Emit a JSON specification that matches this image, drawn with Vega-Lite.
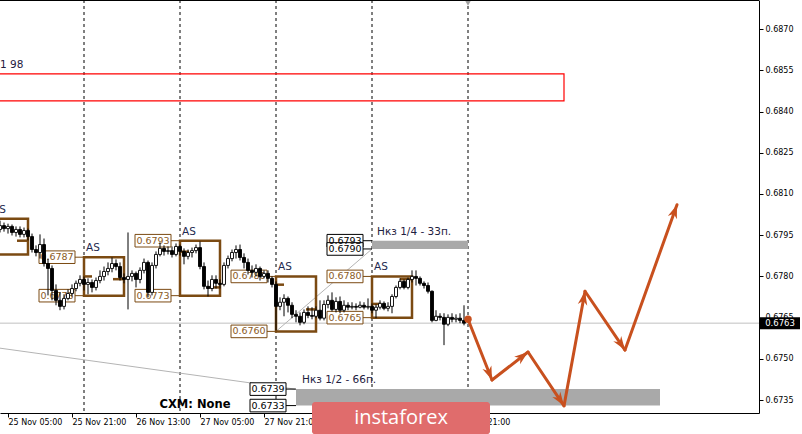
{
  "$schema": "https://vega.github.io/schema/vega-lite/v6.json",
  "width": 759,
  "height": 413,
  "autosize": {"type": "none"},
  "padding": {"left": 0, "top": 0, "right": 43, "bottom": 21},
  "background": "white",
  "config": {"view": {"stroke": null}, "font": "DejaVu Sans"},
  "datasets": {
    "candles": [
      {"t":"2019-11-25T03:00Z","o":0.67971,"h":0.68003,"l":0.6796,"c":0.67985},
      {"t":"2019-11-25T04:00Z","o":0.67985,"h":0.67996,"l":0.67963,"c":0.67974},
      {"t":"2019-11-25T05:00Z","o":0.67974,"h":0.67992,"l":0.67956,"c":0.67982},
      {"t":"2019-11-25T06:00Z","o":0.67982,"h":0.67989,"l":0.67949,"c":0.6796},
      {"t":"2019-11-25T07:00Z","o":0.6796,"h":0.67982,"l":0.67945,"c":0.67971},
      {"t":"2019-11-25T08:00Z","o":0.67971,"h":0.67982,"l":0.67942,"c":0.67953},
      {"t":"2019-11-25T09:00Z","o":0.67953,"h":0.67978,"l":0.67942,"c":0.67967},
      {"t":"2019-11-25T10:00Z","o":0.67967,"h":0.67974,"l":0.67931,"c":0.67945},
      {"t":"2019-11-25T11:00Z","o":0.67945,"h":0.67956,"l":0.67887,"c":0.67898},
      {"t":"2019-11-25T12:00Z","o":0.67898,"h":0.67913,"l":0.67873,"c":0.67887},
      {"t":"2019-11-25T13:00Z","o":0.67887,"h":0.67953,"l":0.67865,"c":0.67916},
      {"t":"2019-11-25T14:00Z","o":0.67916,"h":0.67938,"l":0.67836,"c":0.67847},
      {"t":"2019-11-25T15:00Z","o":0.67847,"h":0.67865,"l":0.67731,"c":0.67829},
      {"t":"2019-11-25T16:00Z","o":0.67829,"h":0.6784,"l":0.67713,"c":0.67749},
      {"t":"2019-11-25T17:00Z","o":0.67749,"h":0.67771,"l":0.67695,"c":0.67713},
      {"t":"2019-11-25T18:00Z","o":0.67713,"h":0.67742,"l":0.67677,"c":0.67691},
      {"t":"2019-11-25T19:00Z","o":0.67691,"h":0.67735,"l":0.6768,"c":0.6772},
      {"t":"2019-11-25T20:00Z","o":0.6772,"h":0.67753,"l":0.67713,"c":0.67738},
      {"t":"2019-11-25T21:00Z","o":0.67738,"h":0.67771,"l":0.67727,"c":0.67756},
      {"t":"2019-11-25T22:00Z","o":0.67756,"h":0.67785,"l":0.67746,"c":0.67775},
      {"t":"2019-11-25T23:00Z","o":0.67775,"h":0.67804,"l":0.67764,"c":0.67789},
      {"t":"2019-11-26T00:00Z","o":0.67789,"h":0.678,"l":0.67749,"c":0.67771},
      {"t":"2019-11-26T01:00Z","o":0.67771,"h":0.67793,"l":0.67735,"c":0.67778},
      {"t":"2019-11-26T02:00Z","o":0.67778,"h":0.67789,"l":0.67742,"c":0.6776},
      {"t":"2019-11-26T03:00Z","o":0.6776,"h":0.67796,"l":0.67749,"c":0.67785},
      {"t":"2019-11-26T04:00Z","o":0.67785,"h":0.67822,"l":0.67775,"c":0.678},
      {"t":"2019-11-26T05:00Z","o":0.678,"h":0.67836,"l":0.67785,"c":0.67818},
      {"t":"2019-11-26T06:00Z","o":0.67818,"h":0.67851,"l":0.67804,"c":0.67829},
      {"t":"2019-11-26T07:00Z","o":0.67829,"h":0.67869,"l":0.67815,"c":0.67847},
      {"t":"2019-11-26T08:00Z","o":0.67847,"h":0.67862,"l":0.67822,"c":0.67836},
      {"t":"2019-11-26T09:00Z","o":0.67836,"h":0.67851,"l":0.67785,"c":0.67796},
      {"t":"2019-11-26T10:00Z","o":0.67796,"h":0.67811,"l":0.67775,"c":0.67789},
      {"t":"2019-11-26T11:00Z","o":0.67789,"h":0.6796,"l":0.6768,"c":0.678},
      {"t":"2019-11-26T12:00Z","o":0.678,"h":0.67822,"l":0.67782,"c":0.67811},
      {"t":"2019-11-26T13:00Z","o":0.67811,"h":0.67818,"l":0.6776,"c":0.67789},
      {"t":"2019-11-26T14:00Z","o":0.67789,"h":0.67833,"l":0.67775,"c":0.67822},
      {"t":"2019-11-26T15:00Z","o":0.67822,"h":0.67865,"l":0.67811,"c":0.67851},
      {"t":"2019-11-26T16:00Z","o":0.67851,"h":0.67858,"l":0.67724,"c":0.67742},
      {"t":"2019-11-26T17:00Z","o":0.67742,"h":0.67851,"l":0.67731,"c":0.6784},
      {"t":"2019-11-26T18:00Z","o":0.6784,"h":0.67891,"l":0.67829,"c":0.6788},
      {"t":"2019-11-26T19:00Z","o":0.6788,"h":0.67924,"l":0.67873,"c":0.67902},
      {"t":"2019-11-26T20:00Z","o":0.67902,"h":0.67913,"l":0.67876,"c":0.67891},
      {"t":"2019-11-26T21:00Z","o":0.67891,"h":0.67909,"l":0.6788,"c":0.67894},
      {"t":"2019-11-26T22:00Z","o":0.67894,"h":0.67909,"l":0.67869,"c":0.6788},
      {"t":"2019-11-26T23:00Z","o":0.6788,"h":0.6792,"l":0.67873,"c":0.67909},
      {"t":"2019-11-27T00:00Z","o":0.67909,"h":0.67916,"l":0.67876,"c":0.67891},
      {"t":"2019-11-27T01:00Z","o":0.67891,"h":0.67902,"l":0.67844,"c":0.67873},
      {"t":"2019-11-27T02:00Z","o":0.67873,"h":0.67898,"l":0.67862,"c":0.67887},
      {"t":"2019-11-27T03:00Z","o":0.67887,"h":0.67905,"l":0.67869,"c":0.67894},
      {"t":"2019-11-27T04:00Z","o":0.67894,"h":0.67916,"l":0.67884,"c":0.67905},
      {"t":"2019-11-27T05:00Z","o":0.67905,"h":0.67927,"l":0.67826,"c":0.67836},
      {"t":"2019-11-27T06:00Z","o":0.67836,"h":0.67851,"l":0.67753,"c":0.67764},
      {"t":"2019-11-27T07:00Z","o":0.67764,"h":0.67785,"l":0.67727,"c":0.67756},
      {"t":"2019-11-27T08:00Z","o":0.67756,"h":0.67804,"l":0.67746,"c":0.67789},
      {"t":"2019-11-27T09:00Z","o":0.67789,"h":0.67804,"l":0.67756,"c":0.67775},
      {"t":"2019-11-27T10:00Z","o":0.67775,"h":0.67789,"l":0.67756,"c":0.67771},
      {"t":"2019-11-27T11:00Z","o":0.67771,"h":0.67851,"l":0.67764,"c":0.6784},
      {"t":"2019-11-27T12:00Z","o":0.6784,"h":0.67876,"l":0.67829,"c":0.67865},
      {"t":"2019-11-27T13:00Z","o":0.67865,"h":0.67898,"l":0.67855,"c":0.67887},
      {"t":"2019-11-27T14:00Z","o":0.67887,"h":0.67913,"l":0.67865,"c":0.67898},
      {"t":"2019-11-27T15:00Z","o":0.67898,"h":0.67916,"l":0.67858,"c":0.67869},
      {"t":"2019-11-27T16:00Z","o":0.67869,"h":0.67884,"l":0.67829,"c":0.67851},
      {"t":"2019-11-27T17:00Z","o":0.67851,"h":0.67865,"l":0.67807,"c":0.67822},
      {"t":"2019-11-27T18:00Z","o":0.67822,"h":0.6784,"l":0.67796,"c":0.67815},
      {"t":"2019-11-27T19:00Z","o":0.67815,"h":0.67844,"l":0.678,"c":0.67829},
      {"t":"2019-11-27T20:00Z","o":0.67829,"h":0.67836,"l":0.67785,"c":0.678},
      {"t":"2019-11-27T21:00Z","o":0.678,"h":0.67822,"l":0.67793,"c":0.67811},
      {"t":"2019-11-27T22:00Z","o":0.67811,"h":0.67822,"l":0.67778,"c":0.67793},
      {"t":"2019-11-27T23:00Z","o":0.67793,"h":0.678,"l":0.6776,"c":0.67771},
      {"t":"2019-11-28T00:00Z","o":0.67771,"h":0.67782,"l":0.67604,"c":0.67691},
      {"t":"2019-11-28T01:00Z","o":0.67691,"h":0.67724,"l":0.67677,"c":0.67706},
      {"t":"2019-11-28T02:00Z","o":0.67706,"h":0.67735,"l":0.67655,"c":0.6772},
      {"t":"2019-11-28T03:00Z","o":0.6772,"h":0.67727,"l":0.67669,"c":0.67695},
      {"t":"2019-11-28T04:00Z","o":0.67695,"h":0.67706,"l":0.67648,"c":0.67662},
      {"t":"2019-11-28T05:00Z","o":0.67662,"h":0.67677,"l":0.67633,"c":0.67655},
      {"t":"2019-11-28T06:00Z","o":0.67655,"h":0.67669,"l":0.67622,"c":0.67633},
      {"t":"2019-11-28T07:00Z","o":0.67633,"h":0.6768,"l":0.67626,"c":0.67669},
      {"t":"2019-11-28T08:00Z","o":0.67669,"h":0.67691,"l":0.67648,"c":0.67658},
      {"t":"2019-11-28T09:00Z","o":0.67658,"h":0.67688,"l":0.67644,"c":0.67655},
      {"t":"2019-11-28T10:00Z","o":0.67655,"h":0.67691,"l":0.67648,"c":0.67677},
      {"t":"2019-11-28T11:00Z","o":0.67677,"h":0.67713,"l":0.6764,"c":0.67648},
      {"t":"2019-11-28T12:00Z","o":0.67648,"h":0.67713,"l":0.6764,"c":0.67698},
      {"t":"2019-11-28T13:00Z","o":0.67698,"h":0.67731,"l":0.67684,"c":0.67713},
      {"t":"2019-11-28T14:00Z","o":0.67713,"h":0.67742,"l":0.67673,"c":0.6768},
      {"t":"2019-11-28T15:00Z","o":0.6768,"h":0.67724,"l":0.67669,"c":0.67709},
      {"t":"2019-11-28T16:00Z","o":0.67709,"h":0.67727,"l":0.67666,"c":0.67677},
      {"t":"2019-11-28T17:00Z","o":0.67677,"h":0.67713,"l":0.67669,"c":0.67695},
      {"t":"2019-11-28T18:00Z","o":0.67695,"h":0.67706,"l":0.67677,"c":0.67688},
      {"t":"2019-11-28T19:00Z","o":0.67688,"h":0.67706,"l":0.6768,"c":0.67691},
      {"t":"2019-11-28T20:00Z","o":0.67691,"h":0.67702,"l":0.67677,"c":0.67688},
      {"t":"2019-11-28T21:00Z","o":0.67688,"h":0.67709,"l":0.67684,"c":0.67695},
      {"t":"2019-11-28T22:00Z","o":0.67695,"h":0.67706,"l":0.6768,"c":0.67688},
      {"t":"2019-11-28T23:00Z","o":0.67688,"h":0.6772,"l":0.6768,"c":0.67691},
      {"t":"2019-11-29T00:00Z","o":0.67691,"h":0.67702,"l":0.67666,"c":0.67677},
      {"t":"2019-11-29T01:00Z","o":0.67677,"h":0.67698,"l":0.67648,"c":0.67688},
      {"t":"2019-11-29T02:00Z","o":0.67688,"h":0.67713,"l":0.6768,"c":0.67702},
      {"t":"2019-11-29T03:00Z","o":0.67702,"h":0.67709,"l":0.67677,"c":0.67684},
      {"t":"2019-11-29T04:00Z","o":0.67684,"h":0.67706,"l":0.67673,"c":0.67691},
      {"t":"2019-11-29T05:00Z","o":0.67691,"h":0.67735,"l":0.67666,"c":0.67727},
      {"t":"2019-11-29T06:00Z","o":0.67727,"h":0.67767,"l":0.6772,"c":0.6776},
      {"t":"2019-11-29T07:00Z","o":0.6776,"h":0.67793,"l":0.67753,"c":0.67782},
      {"t":"2019-11-29T08:00Z","o":0.67782,"h":0.67789,"l":0.67753,"c":0.6776},
      {"t":"2019-11-29T09:00Z","o":0.6776,"h":0.67796,"l":0.67753,"c":0.67789},
      {"t":"2019-11-29T10:00Z","o":0.67789,"h":0.67822,"l":0.67778,"c":0.678},
      {"t":"2019-11-29T11:00Z","o":0.678,"h":0.67822,"l":0.67767,"c":0.67793},
      {"t":"2019-11-29T12:00Z","o":0.67793,"h":0.678,"l":0.67767,"c":0.67775},
      {"t":"2019-11-29T13:00Z","o":0.67775,"h":0.67782,"l":0.67756,"c":0.67767},
      {"t":"2019-11-29T14:00Z","o":0.67767,"h":0.67778,"l":0.67738,"c":0.67746},
      {"t":"2019-11-29T15:00Z","o":0.67746,"h":0.67749,"l":0.67633,"c":0.6764},
      {"t":"2019-11-29T16:00Z","o":0.6764,"h":0.67677,"l":0.67637,"c":0.67655},
      {"t":"2019-11-29T17:00Z","o":0.67655,"h":0.67666,"l":0.6764,"c":0.67651},
      {"t":"2019-11-29T18:00Z","o":0.67651,"h":0.67666,"l":0.6755,"c":0.67626},
      {"t":"2019-11-29T19:00Z","o":0.67626,"h":0.67662,"l":0.67619,"c":0.67651},
      {"t":"2019-11-29T20:00Z","o":0.67651,"h":0.67666,"l":0.67633,"c":0.67644},
      {"t":"2019-11-29T21:00Z","o":0.67644,"h":0.67662,"l":0.67633,"c":0.67648},
      {"t":"2019-11-29T22:00Z","o":0.67648,"h":0.67666,"l":0.6763,"c":0.6764},
      {"t":"2019-11-29T23:00Z","o":0.6764,"h":0.67695,"l":0.67622,"c":0.6763}
    ],
    "sep": [
      {"t":"2019-11-26T00:00Z"},{"t":"2019-11-27T00:00Z"},{"t":"2019-11-28T00:00Z"},{"t":"2019-11-29T00:00Z"},{"t":"2019-11-30T00:00Z"}
    ],
    "price": [{"t":"2019-12-03T06:00Z","p":0.6763,"txt":"0.6763","top":0.68806}],
    "trend": [
      {"t1":"2019-11-25T00:00Z","p1":0.67545,"t2":"2019-11-28T04:45Z","p2":0.6739},
      {"t1":"2019-11-28T00:00Z","p1":0.676,"t2":"2019-11-29T00:00Z","p2":0.679}
    ],
    "zones": [
      {"t1":"2019-11-29T00:00Z","t2":"2019-11-30T00:00Z","p1":0.679,"p2":0.6793},
      {"t1":"2019-11-28T05:00Z","t2":"2019-12-02T00:00Z","p1":0.6733,"p2":0.6739}
    ],
    "red": [{"t1":"2019-11-24T00:00Z","t2":"2019-12-01T00:00Z","p1":0.68439,"p2":0.68537}],
    "boxes": [
      {"t1":"2019-11-25T00:00Z","t2":"2019-11-25T10:00Z","hi":0.6801,"lo":0.6788,"ta":"2019-11-25T01:00Z","pa":0.68043},
      {"t1":"2019-11-26T00:00Z","t2":"2019-11-26T10:00Z","hi":0.6787,"lo":0.6773,"ta":"2019-11-26T00:30Z","pa":0.67903},
      {"t1":"2019-11-27T00:00Z","t2":"2019-11-27T10:00Z","hi":0.6793,"lo":0.6773,"ta":"2019-11-27T00:30Z","pa":0.67963},
      {"t1":"2019-11-28T00:00Z","t2":"2019-11-28T10:00Z","hi":0.678,"lo":0.676,"ta":"2019-11-28T00:30Z","pa":0.67833},
      {"t1":"2019-11-29T00:00Z","t2":"2019-11-29T10:00Z","hi":0.678,"lo":0.6765,"ta":"2019-11-29T00:30Z","pa":0.67833}
    ],
    "sticks": [
      {"t1":"2019-11-25T07:15Z","t2":"2019-11-25T10:00Z","p":0.6793},
      {"t1":"2019-11-26T00:00Z","t2":"2019-11-26T02:00Z","p":0.678},
      {"t1":"2019-11-26T07:15Z","t2":"2019-11-26T10:00Z","p":0.6779},
      {"t1":"2019-11-27T00:00Z","t2":"2019-11-27T02:15Z","p":0.6789},
      {"t1":"2019-11-27T06:45Z","t2":"2019-11-27T10:00Z","p":0.6776},
      {"t1":"2019-11-28T00:00Z","t2":"2019-11-28T02:00Z","p":0.6777},
      {"t1":"2019-11-28T07:30Z","t2":"2019-11-28T10:00Z","p":0.6768},
      {"t1":"2019-11-29T00:00Z","t2":"2019-11-29T02:15Z","p":0.677},
      {"t1":"2019-11-29T07:00Z","t2":"2019-11-29T10:00Z","p":0.6779}
    ],
    "conn": [
      {"t1":"2019-11-25T21:45Z","t2":"2019-11-26T00:00Z","p":0.6787,"k":"s"},
      {"t1":"2019-11-25T21:45Z","t2":"2019-11-26T00:00Z","p":0.6773,"k":"s"},
      {"t1":"2019-11-26T21:45Z","t2":"2019-11-27T00:00Z","p":0.6793,"k":"s"},
      {"t1":"2019-11-26T21:45Z","t2":"2019-11-27T00:00Z","p":0.6773,"k":"s"},
      {"t1":"2019-11-27T21:45Z","t2":"2019-11-28T00:00Z","p":0.678,"k":"s"},
      {"t1":"2019-11-27T21:45Z","t2":"2019-11-28T00:00Z","p":0.676,"k":"s"},
      {"t1":"2019-11-28T21:45Z","t2":"2019-11-29T00:00Z","p":0.678,"k":"s"},
      {"t1":"2019-11-28T21:45Z","t2":"2019-11-29T00:00Z","p":0.6765,"k":"s"},
      {"t1":"2019-11-28T21:45Z","t2":"2019-11-29T00:00Z","p":0.6793,"k":"n"},
      {"t1":"2019-11-28T21:45Z","t2":"2019-11-29T00:00Z","p":0.679,"k":"n"},
      {"t1":"2019-11-28T02:30Z","t2":"2019-11-28T05:00Z","p":0.6739,"k":"n"},
      {"t1":"2019-11-28T02:30Z","t2":"2019-11-28T05:00Z","p":0.6733,"k":"n"}
    ],
    "labels": [
      {"t":"2019-11-25T17:15Z","p":0.6787,"txt":"0.6787","k":"s"},
      {"t":"2019-11-25T17:15Z","p":0.6773,"txt":"0.6773","k":"s"},
      {"t":"2019-11-26T17:15Z","p":0.6793,"txt":"0.6793","k":"s"},
      {"t":"2019-11-26T17:15Z","p":0.6773,"txt":"0.6773","k":"s"},
      {"t":"2019-11-27T17:15Z","p":0.678,"txt":"0.6780","k":"s"},
      {"t":"2019-11-27T17:15Z","p":0.676,"txt":"0.6760","k":"s"},
      {"t":"2019-11-28T17:15Z","p":0.678,"txt":"0.6780","k":"s"},
      {"t":"2019-11-28T17:15Z","p":0.6765,"txt":"0.6765","k":"s"},
      {"t":"2019-11-28T17:15Z","p":0.6793,"txt":"0.6793","k":"n"},
      {"t":"2019-11-28T17:15Z","p":0.679,"txt":"0.6790","k":"n"},
      {"t":"2019-11-27T22:00Z","p":0.6739,"txt":"0.6739","k":"n"},
      {"t":"2019-11-27T22:00Z","p":0.6733,"txt":"0.6733","k":"n"}
    ],
    "notes": [
      {"t":"2019-11-29T01:15Z","p":0.67963,"txt":"Нкз 1/4 - 33п."},
      {"t":"2019-11-28T06:30Z","p":0.67423,"txt":"Нкз 1/2 - 66п."},
      {"t":"2019-11-25T03:00Z","p":0.6857,"txt":"1 98"}
    ],
    "cxm": [{"t":"2019-11-27T03:45Z","p":0.67332,"txt":"CXM: None"}],
    "arrows": [
      {"t1":"2019-11-30T00:00Z","p1":0.67644,"t2":"2019-11-30T06:00Z","p2":0.67423},
      {"t1":"2019-11-30T06:00Z","p1":0.67423,"t2":"2019-11-30T15:00Z","p2":0.67525},
      {"t1":"2019-11-30T15:00Z","p1":0.67525,"t2":"2019-12-01T00:00Z","p2":0.67329},
      {"t1":"2019-12-01T00:00Z","p1":0.67329,"t2":"2019-12-01T05:15Z","p2":0.67746},
      {"t1":"2019-12-01T05:15Z","p1":0.67746,"t2":"2019-12-01T15:15Z","p2":0.67532},
      {"t1":"2019-12-01T15:15Z","p1":0.67532,"t2":"2019-12-02T04:15Z","p2":0.68061}
    ],
    "dot": [{"t":"2019-11-30T00:00Z","p":0.67644}],
    "shift": [{"t":"2019-11-30T00:00Z","p":0.68796}],
    "logo": [{"t1":"2019-11-28T09:00Z","t2":"2019-11-30T05:30Z","p1":0.67343,"p2":0.67226,"t":"2019-11-29T07:15Z","p":0.67284,"txt":"instaforex"}]
  },
  "layer": [
    {"data":{"name":"sep"},"mark":{"type":"rule","color":"black","strokeWidth":1,"strokeDash":[3,3]},
     "encoding":{"x":{"field":"t","type":"temporal","title":null}}},
    {"data":{"name":"price"},"mark":{"type":"rule","color":"#c0c0c0","strokeWidth":1},
     "encoding":{"y":{"field":"p","type":"quantitative","title":null}}},
    {"data":{"name":"trend"},"mark":{"type":"rule","color":"#b4b4b4","strokeWidth":1,"clip":true},
     "encoding":{"x":{"field":"t1","type":"temporal","title":null},"x2":{"field":"t2"},"y":{"field":"p1","type":"quantitative","title":null},"y2":{"field":"p2"}}},
    {"data":{"name":"zones"},"mark":{"type":"rect","color":"#a9a9a9","clip":true},
     "encoding":{"x":{"field":"t1","type":"temporal","title":null},"x2":{"field":"t2"},"y":{"field":"p1","type":"quantitative","title":null},"y2":{"field":"p2"}}},
    {"data":{"name":"red"},"mark":{"type":"rect","fill":"white","fillOpacity":0,"stroke":"#ff0000","strokeWidth":1.2,"clip":true},
     "encoding":{"x":{"field":"t1","type":"temporal","title":null},"x2":{"field":"t2"},"y":{"field":"p1","type":"quantitative","title":null},"y2":{"field":"p2"}}},
    {"data":{"name":"boxes"},"mark":{"type":"rect","fill":"white","fillOpacity":0,"stroke":"#7b4a12","strokeWidth":2.5,"clip":true},
     "encoding":{"x":{"field":"t1","type":"temporal","title":null},"x2":{"field":"t2"},"y":{"field":"hi","type":"quantitative","title":null},"y2":{"field":"lo"}}},
    {"data":{"name":"boxes"},"mark":{"type":"text","text":"AS","align":"left","baseline":"middle","fontSize":10.5,"color":"#1e2a50","clip":true},
     "encoding":{"x":{"field":"ta","type":"temporal","title":null},"y":{"field":"pa","type":"quantitative","title":null}}},
    {"data":{"name":"sticks"},"mark":{"type":"rule","color":"#7b4a12","strokeWidth":2.5,"clip":true},
     "encoding":{"x":{"field":"t1","type":"temporal","title":null},"x2":{"field":"t2"},"y":{"field":"p","type":"quantitative","title":null}}},
    {"data":{"name":"conn"},"mark":{"type":"rule","strokeWidth":1},
     "encoding":{"x":{"field":"t1","type":"temporal","title":null},"x2":{"field":"t2"},"y":{"field":"p","type":"quantitative","title":null},
       "color":{"condition":{"test":"datum.k=='n'","value":"black"},"value":"#7b4a12"}}},
    {"data":{"name":"labels"},"mark":{"type":"point","shape":"M-1,-0.35H1V0.35H-1Z","size":1296,"filled":true,"fill":"white","fillOpacity":1,"strokeWidth":1,"opacity":1},
     "encoding":{"x":{"field":"t","type":"temporal","title":null},"y":{"field":"p","type":"quantitative","title":null},
       "stroke":{"condition":{"test":"datum.k=='n'","value":"black"},"value":"#7b4a12"}}},
    {"data":{"name":"labels"},"mark":{"type":"text","align":"center","baseline":"middle","fontSize":9.5},
     "encoding":{"x":{"field":"t","type":"temporal","title":null},"y":{"field":"p","type":"quantitative","title":null},"text":{"field":"txt"},
       "color":{"condition":{"test":"datum.k=='n'","value":"black"},"value":"#8a5a1e"}}},
    {"data":{"name":"notes"},"mark":{"type":"text","align":"left","baseline":"middle","fontSize":10.5,"color":"#1e2040","clip":true},
     "encoding":{"x":{"field":"t","type":"temporal","title":null},"y":{"field":"p","type":"quantitative","title":null},"text":{"field":"txt"}}},
    {"data":{"name":"cxm"},"mark":{"type":"text","align":"center","baseline":"middle","fontSize":11.5,"fontWeight":"bold","color":"black"},
     "encoding":{"x":{"field":"t","type":"temporal","title":null},"y":{"field":"p","type":"quantitative","title":null},"text":{"field":"txt"}}},
    {"data":{"name":"candles"},"mark":{"type":"rule","color":"black","strokeWidth":1},
     "encoding":{
       "x":{"field":"t","type":"temporal","title":null,
         "scale":{"type":"utc","nice":false,"padding":0,"domain":[{"year":2019,"month":11,"date":25,"hours":3,"utc":true},{"year":2019,"month":12,"date":3,"hours":0,"minutes":45,"utc":true}]},
         "axis":{"values":[
             {"year":2019,"month":11,"date":25,"hours":5,"utc":true},
             {"year":2019,"month":11,"date":25,"hours":21,"utc":true},
             {"year":2019,"month":11,"date":26,"hours":13,"utc":true},
             {"year":2019,"month":11,"date":27,"hours":5,"utc":true},
             {"year":2019,"month":11,"date":27,"hours":21,"utc":true},
             {"year":2019,"month":11,"date":28,"hours":13,"utc":true},
             {"year":2019,"month":11,"date":29,"hours":5,"utc":true},
             {"year":2019,"month":11,"date":29,"hours":21,"utc":true}],
           "labelExpr":"utcFormat(datum.value, '%d %b %H:%M')",
           "labelAlign":"left","labelBaseline":"top","labelPadding":1,"tickSize":4,"tickColor":"black","domainColor":"black",
           "labelColor":"black","labelFont":"DejaVu Sans","labelFontSize":8,"grid":false,"labelOverlap":false,"labelFlush":false,"labelBound":false,"title":null}},
       "y":{"field":"l","type":"quantitative","title":null,
         "scale":{"domain":[0.67303,0.68806],"zero":false,"nice":false,"padding":0},
         "axis":{"orient":"right","values":[0.6735,0.675,0.6765,0.678,0.6795,0.681,0.6825,0.684,0.6855,0.687],"format":".4f",
           "tickSize":4,"labelPadding":2,"tickColor":"black","domainColor":"black","labelColor":"black","labelFont":"DejaVu Sans","labelFontSize":8,
           "grid":false,"labelOverlap":false,"labelFlush":false,"title":null}},
       "y2":{"field":"h"}}},
    {"data":{"name":"candles"},"mark":{"type":"bar","width":3,"stroke":"black","strokeWidth":0.9},
     "encoding":{"x":{"field":"t","type":"temporal","title":null},"y":{"field":"o","type":"quantitative","title":null},"y2":{"field":"c"},
       "color":{"condition":{"test":"datum.c >= datum.o","value":"white"},"value":"black"}}},
    {"data":{"name":"arrows"},"mark":{"type":"rule","color":"#c8501e","strokeWidth":3,"strokeCap":"round"},
     "encoding":{"x":{"field":"t1","type":"temporal","title":null},"x2":{"field":"t2"},"y":{"field":"p1","type":"quantitative","title":null},"y2":{"field":"p2"}}},
    {"data":{"name":"arrows"},
     "transform":[{"calculate":"atan2((time(datum.t2)-time(datum.t1))/900000,(datum.p2-datum.p1)*27478)*180/PI","as":"ang"}],
     "mark":{"type":"point","shape":"M0,0L0.8,2.3L0,1.6L-0.8,2.3Z","size":144,"filled":true,"color":"#c8501e","opacity":1},
     "encoding":{"x":{"field":"t2","type":"temporal","title":null},"y":{"field":"p2","type":"quantitative","title":null},
       "angle":{"field":"ang","type":"quantitative","scale":null}}},
    {"data":{"name":"dot"},"mark":{"type":"point","shape":"circle","size":55,"filled":true,"color":"#c8501e","opacity":1},
     "encoding":{"x":{"field":"t","type":"temporal","title":null},"y":{"field":"p","type":"quantitative","title":null}}},
    {"data":{"name":"shift"},"mark":{"type":"point","shape":"triangle-down","size":45,"filled":true,"color":"#a0a0a0","opacity":1},
     "encoding":{"x":{"field":"t","type":"temporal","title":null},"y":{"field":"p","type":"quantitative","title":null}}},
    {"data":{"name":"price"},"mark":{"type":"rule","color":"black","strokeWidth":2},
     "encoding":{"y":{"field":"top","type":"quantitative","title":null}}},
    {"data":{"name":"logo"},"mark":{"type":"rect","color":"#e06c6c","opacity":1,"cornerRadius":3},
     "encoding":{"x":{"field":"t1","type":"temporal","title":null},"x2":{"field":"t2"},"y":{"field":"p1","type":"quantitative","title":null},"y2":{"field":"p2"}}},
    {"data":{"name":"logo"},"mark":{"type":"text","align":"center","baseline":"middle","fontSize":20,"color":"white","font":"Open Sans"},
     "encoding":{"x":{"field":"t","type":"temporal","title":null},"y":{"field":"p","type":"quantitative","title":null},"text":{"field":"txt"}}},
    {"data":{"name":"price"},"mark":{"type":"point","shape":"M-1,-0.3H1V0.3H-1Z","size":1600,"filled":true,"color":"black","opacity":1},
     "encoding":{"x":{"field":"t","type":"temporal","title":null},"y":{"field":"p","type":"quantitative","title":null}}},
    {"data":{"name":"price"},"mark":{"type":"text","align":"center","baseline":"middle","fontSize":8.5,"color":"white"},
     "encoding":{"x":{"field":"t","type":"temporal","title":null},"y":{"field":"p","type":"quantitative","title":null},"text":{"field":"txt"}}}
  ]
}
